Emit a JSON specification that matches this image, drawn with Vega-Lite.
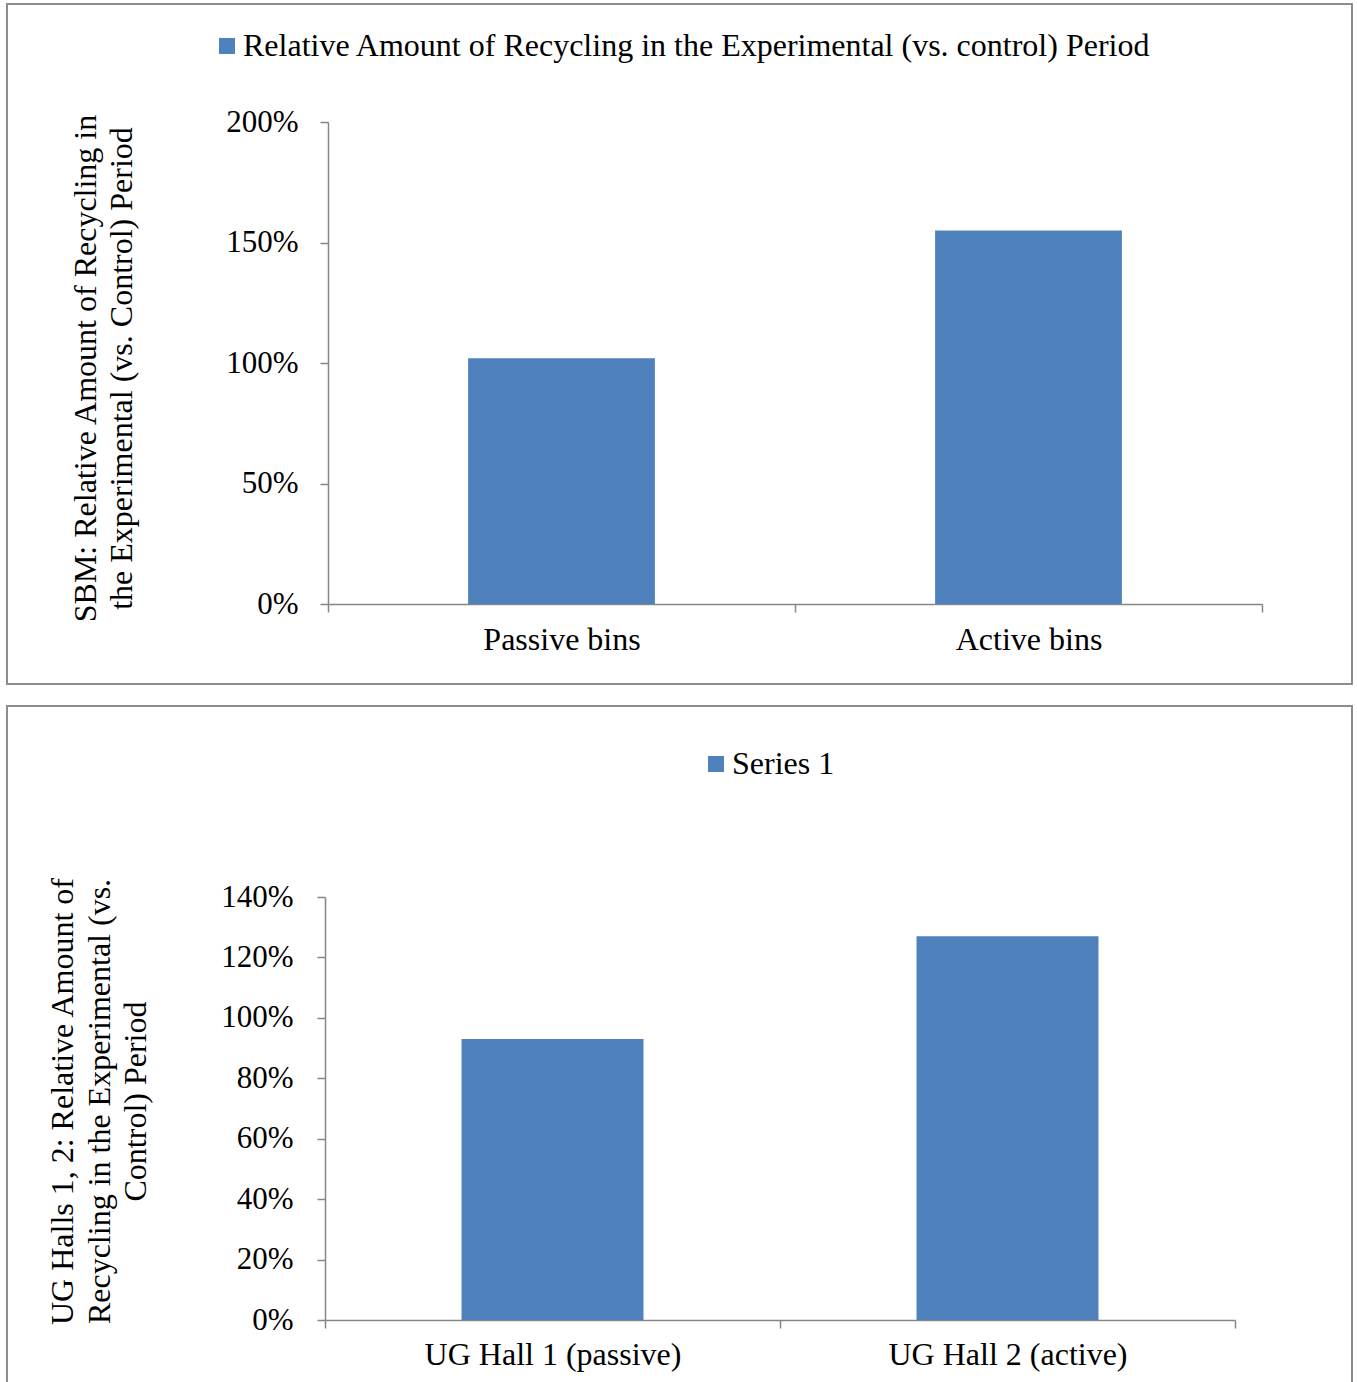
{
  "$schema": "https://vega.github.io/schema/vega-lite/v6.json",
  "padding": {"left": 6, "top": 3, "right": 0, "bottom": 0},
  "background": "white",
  "spacing": 20,
  "config": {
    "view": {"stroke": "#8c8c8c", "strokeWidth": 2},
    "font": "Liberation Serif",
    "axis": {
      "domainColor": "#868686",
      "tickColor": "#868686",
      "domainWidth": 1.5,
      "tickWidth": 1.5,
      "tickSize": 8,
      "grid": false,
      "labelColor": "black",
      "titleColor": "black",
      "labelFont": "Liberation Serif",
      "titleFont": "Liberation Serif",
      "titleFontWeight": "normal",
      "labelLimit": 1000
    },
    "legend": {
      "labelFont": "Liberation Serif",
      "labelColor": "black"
    }
  },
  "resolve": {
    "scale": {"x": "independent", "y": "independent", "color": "independent"},
    "legend": {"color": "independent"}
  },
  "vconcat": [
    {
      "width": 1345,
      "height": 680,
      "data": {
        "values": [
          {"category": "Passive bins", "value": 1.02, "series": "Relative Amount of Recycling in the Experimental (vs. control) Period"},
          {"category": "Active bins", "value": 1.55, "series": "Relative Amount of Recycling in the Experimental (vs. control) Period"}
        ]
      },
      "mark": {"type": "bar", "width": {"band": 0.4}},
      "encoding": {
        "x": {
          "field": "category",
          "type": "nominal",
          "sort": null,
          "scale": {"range": [321, 1255], "paddingInner": 0, "paddingOuter": 0},
          "axis": {
            "orient": "bottom",
            "offset": -80,
            "tickBand": "extent",
            "labelAngle": 0,
            "labelFontSize": 32,
            "labelPadding": 12,
            "title": null
          }
        },
        "y": {
          "field": "value",
          "type": "quantitative",
          "scale": {"domain": [0, 2], "range": [600, 118], "nice": false, "zero": true},
          "axis": {
            "offset": -321,
            "values": [0, 0.5, 1, 1.5, 2],
            "format": ".0%",
            "labelFontSize": 31,
            "labelPadding": 22,
            "title": ["SBM: Relative Amount of Recycling in", "the Experimental (vs. Control) Period"],
            "titleFontSize": 32,
            "titleLineHeight": 36,
            "titleAngle": -90,
            "titleAlign": "center",
            "titleBaseline": "middle",
            "titleX": -243,
            "titleY": 364
          }
        },
        "color": {
          "field": "series",
          "type": "nominal",
          "scale": {"range": ["#4F81BD"]},
          "legend": {
            "orient": "none",
            "legendX": 204,
            "legendY": 26,
            "title": null,
            "padding": 0,
            "symbolType": "square",
            "symbolSize": 256,
            "symbolStrokeWidth": 0,
            "symbolOpacity": 1,
            "labelFontSize": 32,
            "labelOffset": 0,
            "labelLimit": 1200
          }
        }
      }
    },
    {
      "width": 1345,
      "height": 680,
      "data": {
        "values": [
          {"category": "UG Hall 1 (passive)", "value": 0.93, "series": "Series 1"},
          {"category": "UG Hall 2 (active)", "value": 1.27, "series": "Series 1"}
        ]
      },
      "mark": {"type": "bar", "width": {"band": 0.4}},
      "encoding": {
        "x": {
          "field": "category",
          "type": "nominal",
          "sort": null,
          "scale": {"range": [318, 1228], "paddingInner": 0, "paddingOuter": 0},
          "axis": {
            "orient": "bottom",
            "offset": -66,
            "tickBand": "extent",
            "labelAngle": 0,
            "labelFontSize": 32,
            "labelPadding": 11,
            "title": null
          }
        },
        "y": {
          "field": "value",
          "type": "quantitative",
          "scale": {"domain": [0, 1.4], "range": [614, 191], "nice": false, "zero": true},
          "axis": {
            "offset": -318,
            "values": [0, 0.2, 0.4, 0.6, 0.8, 1, 1.2, 1.4],
            "format": ".0%",
            "labelFontSize": 31,
            "labelPadding": 24,
            "title": ["UG Halls 1, 2: Relative Amount of", "Recycling in the Experimental (vs.", "Control) Period"],
            "titleFontSize": 32,
            "titleLineHeight": 36.5,
            "titleAngle": -90,
            "titleAlign": "center",
            "titleBaseline": "middle",
            "titleX": -262.5,
            "titleY": 395
          }
        },
        "color": {
          "field": "series",
          "type": "nominal",
          "scale": {"range": ["#4F81BD"]},
          "legend": {
            "orient": "none",
            "legendX": 693,
            "legendY": 42,
            "title": null,
            "padding": 0,
            "symbolType": "square",
            "symbolSize": 256,
            "symbolStrokeWidth": 0,
            "symbolOpacity": 1,
            "labelFontSize": 32,
            "labelOffset": 0,
            "labelLimit": 1200
          }
        }
      }
    }
  ]
}
